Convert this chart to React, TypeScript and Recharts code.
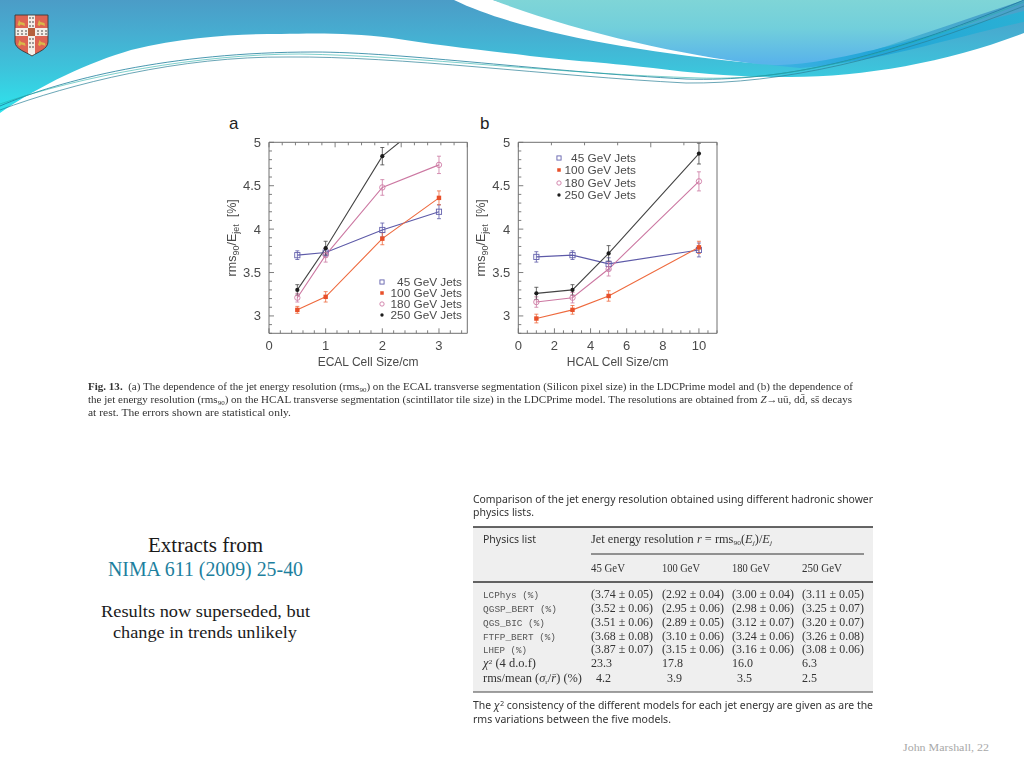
import React from 'react';
import { LineChart, Line, XAxis, YAxis, ErrorBar, Legend } from 'recharts';

// Panel a: ECAL cell size scan
const ecalSizes = [0.5, 1, 2, 3];
const ecal45 = [3.7, 3.73, 3.99, 4.2];
const ecal45Err = [0.05, 0.05, 0.08, 0.08];
const ecal100 = [3.07, 3.22, 3.89, 4.36];
const ecal100Err = [0.04, 0.06, 0.07, 0.08];
const ecal180 = [3.21, 3.7, 4.48, 4.74];
const ecal180Err = [0.05, 0.08, 0.09, 0.1];
const ecal250 = [3.3, 3.78, 4.84, 5.37];
const ecal250Err = [0.06, 0.08, 0.1, 0.1];

// Panel b: HCAL cell size scan
const hcalSizes = [1, 3, 5, 10];
const hcal45 = [3.68, 3.7, 3.6, 3.76];
const hcal45Err = [0.06, 0.05, 0.07, 0.08];
const hcal100 = [2.97, 3.07, 3.23, 3.79];
const hcal100Err = [0.05, 0.05, 0.06, 0.07];
const hcal180 = [3.16, 3.21, 3.54, 4.55];
const hcal180Err = [0.06, 0.06, 0.08, 0.11];
const hcal250 = [3.26, 3.3, 3.72, 4.87];
const hcal250Err = [0.07, 0.06, 0.09, 0.12];

const seriesNames = ['45 GeV Jets', '100 GeV Jets', '180 GeV Jets', '250 GeV Jets'];
const seriesColors = ['#5d5aa8', '#ee6a3e', '#cc78a2', '#444444'];
const markerColors = ['#6360ac', '#e8502a', '#cf7ba5', '#1c1c1c'];

const yTicks = [2.8, 2.9, 3, 3.1, 3.2, 3.3, 3.4, 3.5, 3.6, 3.7, 3.8, 3.9, 4, 4.1, 4.2, 4.3, 4.4, 4.5, 4.6, 4.7, 4.8, 4.9, 5];
const yMajor = [3, 3.5, 4, 4.5, 5];
const ecalTicks = [0, 0.2, 0.4, 0.6, 0.8, 1, 1.2, 1.4, 1.6, 1.8, 2, 2.2, 2.4, 2.6, 2.8, 3, 3.2, 3.4];
const ecalMajor = [0, 1, 2, 3];
const hcalTicks = [0, 0.5, 1, 1.5, 2, 2.5, 3, 3.5, 4, 4.5, 5, 5.5, 6, 6.5, 7, 7.5, 8, 8.5, 9, 9.5, 10, 10.5, 11];
const hcalMajor = [0, 2, 4, 6, 8, 10];

// Table below the plots
const tableEnergies = ['45 GeV', '100 GeV', '180 GeV', '250 GeV'];
const tableLists = ['LCPhys (%)', 'QGSP_BERT (%)', 'QGS_BIC (%)', 'FTFP_BERT (%)', 'LHEP (%)'];
const tableRows = [
  ['(3.74 ± 0.05)', '(2.92 ± 0.04)', '(3.00 ± 0.04)', '(3.11 ± 0.05)'],
  ['(3.52 ± 0.06)', '(2.95 ± 0.06)', '(2.98 ± 0.06)', '(3.25 ± 0.07)'],
  ['(3.51 ± 0.06)', '(2.89 ± 0.05)', '(3.12 ± 0.07)', '(3.20 ± 0.07)'],
  ['(3.68 ± 0.08)', '(3.10 ± 0.06)', '(3.24 ± 0.06)', '(3.26 ± 0.08)'],
  ['(3.87 ± 0.07)', '(3.15 ± 0.06)', '(3.16 ± 0.06)', '(3.08 ± 0.06)'],
];
const tableChi2 = ['23.3', '17.8', '16.0', '6.3'];
const tableRms = ['4.2', '3.9', '3.5', '2.5'];

const SANS = '"Liberation Sans", Arial, sans-serif';
const SERIF = '"Liberation Serif", serif';
const AXIS = '#707070';
const TEXT = '#4a4a4a';

const buildRows = (xs: number[], v: number[][], e: number[][]) =>
  xs.map((x, i) => ({
    x,
    v0: v[0][i], e0: e[0][i],
    v1: v[1][i], e1: e[1][i],
    v2: v[2][i], e2: e[2][i],
    v3: v[3][i], e3: e[3][i],
  }));

function Marker({ index, cx, cy, small }: { index: number; cx: number; cy: number; small?: boolean }) {
  const c = markerColors[index];
  const k = small ? 0.8 : 1;
  if (index === 0) return <rect x={cx - 2.6 * k} y={cy - 2.6 * k} width={5.2 * k} height={5.2 * k} fill="none" stroke={c} strokeWidth={0.9} />;
  if (index === 1) return <rect x={cx - 2.2 * k} y={cy - 2.2 * k} width={4.4 * k} height={4.4 * k} fill={c} />;
  if (index === 2) return <circle cx={cx} cy={cy} r={2.7 * k} fill="none" stroke={c} strokeWidth={0.9} />;
  return <circle cx={cx} cy={cy} r={2.1 * k} fill={c} />;
}

function Panel({ left, width, plotLeft, plotRight, xDomain, xTicks, xMajor, rows, xLabel, legendBox }: any) {
  const top = 130;
  const height = 245;
  const plotTop = 12.3;
  const bottomH = 41.7;

  const bottomTick = ({ x, y, payload }: any) => {
    const major = xMajor.includes(payload.value);
    return (
      <g>
        <line x1={x} x2={x} y1={y} y2={y - (major ? 5 : 3)} stroke={AXIS} strokeWidth={0.9} />
        {major && <text x={x} y={y + 17} textAnchor="middle" fontSize={13} fontFamily={SANS} fill={TEXT}>{payload.value}</text>}
      </g>
    );
  };
  const topTick = ({ x, y, payload }: any) => {
    const major = xMajor.includes(payload.value);
    return <line x1={x} x2={x} y1={y} y2={y + (major ? 5 : 3)} stroke={AXIS} strokeWidth={0.9} />;
  };
  const leftTick = ({ x, y, payload }: any) => {
    const major = yMajor.includes(payload.value);
    return (
      <g>
        <line x1={x} x2={x + (major ? 5 : 3)} y1={y} y2={y} stroke={AXIS} strokeWidth={0.9} />
        {major && <text x={x - 8} y={y + 4.5} textAnchor="end" fontSize={13} fontFamily={SANS} fill={TEXT}>{payload.value}</text>}
      </g>
    );
  };
  const rightTick = ({ x, y, payload }: any) => {
    const major = yMajor.includes(payload.value);
    return <line x1={x} x2={x - (major ? 5 : 3)} y1={y} y2={y} stroke={AXIS} strokeWidth={0.9} />;
  };

  const yLabel = (props: any) => {
    const vb = props.viewBox;
    const lx = vb.x + vb.width - 33;
    const ly = vb.y + vb.height / 2;
    return (
      <text transform={`rotate(-90 ${lx} ${ly})`} x={lx} y={ly} textAnchor="middle" fontSize={12.5} fontFamily={SANS} fill={TEXT}>
        rms<tspan fontSize={9} dy={3}>90</tspan><tspan dy={-3}>/E</tspan><tspan fontSize={9} dy={3}>jet</tspan><tspan dy={-3}>{'\u00a0\u00a0'}[%]</tspan>
      </text>
    );
  };

  const legendContent = ({ payload }: any) => (
    <div style={{ width: legendBox.width }}>
      {(payload || []).map((p: any, i: number) => (
        <div key={p.value} style={{ position: 'relative', height: legendBox.row, lineHeight: `${legendBox.row}px`, textAlign: 'right', fontFamily: SANS, fontSize: 11.8, color: TEXT, whiteSpace: 'nowrap' }}>
          <svg width={8} height={8} style={{ position: 'absolute', left: 0, top: legendBox.row / 2 - 4 }}>
            <Marker index={i} cx={4} cy={4} small />
          </svg>
          {p.value}
        </div>
      ))}
    </div>
  );

  return (
    <div style={{ position: 'absolute', left, top, width, height, filter: 'blur(0.35px)' }}>
      <LineChart
        width={width}
        height={height}
        data={rows}
        margin={{ top: plotTop - 1, right: left + width - plotRight - 1, left: 0, bottom: 0 }}
      >
        <XAxis
          dataKey="x"
          xAxisId="main"
          type="number"
          domain={xDomain}
          ticks={xTicks}
          interval={0}
          height={bottomH}
          tickSize={0}
          tickMargin={0}
          tick={bottomTick}
          stroke={AXIS}
          label={{ value: xLabel, position: 'insideBottom', offset: 9, fontSize: 12, fontFamily: SANS, fill: TEXT }}
        />
        <XAxis xAxisId="top" orientation="top" type="number" domain={xDomain} ticks={xTicks} interval={0} height={1} tickSize={0} tickMargin={0} tick={topTick} stroke={AXIS} />
        <YAxis
          yAxisId="main"
          type="number"
          domain={[2.8, 5]}
          allowDataOverflow
          ticks={yTicks}
          interval={0}
          width={plotLeft - left}
          tickSize={0}
          tickMargin={0}
          tick={leftTick}
          stroke={AXIS}
          label={yLabel}
        />
        <YAxis yAxisId="right" orientation="right" type="number" domain={[2.8, 5]} ticks={yTicks} interval={0} width={1} tickSize={0} tickMargin={0} tick={rightTick} stroke={AXIS} />
        <Legend
          layout="vertical"
          align="center"
          verticalAlign="middle"
          itemSorter={null}
          content={legendContent}
          wrapperStyle={{ left: legendBox.x - left, top: legendBox.y - top, width: legendBox.width }}
        />
        {seriesNames.map((name, i) => (
          <Line
            key={name}
            xAxisId="main"
            yAxisId="main"
            dataKey={`v${i}`}
            name={name}
            stroke={seriesColors[i]}
            strokeWidth={1.1}
            isAnimationActive={false}
            dot={(p: any) => <Marker key={`${name}-${p.index}`} index={i} cx={p.cx} cy={p.cy} />}
          >
            <ErrorBar dataKey={`e${i}`} direction="y" width={2} stroke={seriesColors[i]} strokeWidth={0.8} isAnimationActive={false} />
          </Line>
        ))}
      </LineChart>
    </div>
  );
}

function T({ x, y, w, size, font = SERIF, fill = '#333', weight, children }: any) {
  return (
    <text x={x} y={y} textLength={w} lengthAdjust="spacingAndGlyphs" fontSize={size} fontFamily={font} fill={fill} fontWeight={weight}>
      {children}
    </text>
  );
}

function Banner() {
  const spots = [[30, 18], [33, 18], [30, 22], [33, 22], [30, 26], [33, 26], [30, 39], [33, 39], [30, 43], [33, 43], [30, 47], [33, 47], [18, 31], [22, 31], [26, 31], [38, 31], [42, 31], [46, 31], [18, 34], [22, 34], [26, 34], [38, 34], [42, 34], [46, 34]];
  const lions = [[17.5, 20], [37.5, 20], [18, 40], [38, 40]];
  return (
    <svg width={1024} height={125} style={{ position: 'absolute', left: 0, top: 0 }}>
      <defs>
        <linearGradient id="blueBand" gradientUnits="userSpaceOnUse" x1={0} y1={0} x2={0} y2={115}>
          <stop offset="0" stopColor="#4b9cc7" />
          <stop offset="0.3" stopColor="#46aed1" />
          <stop offset="0.62" stopColor="#3cc5dc" />
          <stop offset="1" stopColor="#2de6ee" />
        </linearGradient>
        <linearGradient id="tealBand" gradientUnits="userSpaceOnUse" x1={0} y1={0} x2={0} y2={62}>
          <stop offset="0" stopColor="#7fd5d7" />
          <stop offset="0.45" stopColor="#72cfdb" />
          <stop offset="1" stopColor="#59b4ea" />
        </linearGradient>
        <linearGradient id="deepBand" gradientUnits="userSpaceOnUse" x1={770} y1={0} x2={1024} y2={0}>
          <stop offset="0" stopColor="#3fb2e4" />
          <stop offset="0.4" stopColor="#23a6d8" />
          <stop offset="1" stopColor="#2ab0d4" />
        </linearGradient>
        <clipPath id="shieldClip">
          <path d="M15,15 H48 V42 C48,49 38,52 32,56 C26,52 15,49 15,42 Z" />
        </clipPath>
      </defs>
      <path d="M0,0 H1024 V33 C950,62 860,78 784,77 C740,77 700,74 653,68 C600,62 560,60 523,55 C470,49 430,44 392,38 C350,33 320,33 281,34 C240,34 190,36 131,50 C90,62 40,85 0,113 Z" fill="url(#blueBand)" />
      <path d="M454,0 C520,32 640,52 752,63 L760,64 C680,55 590,30 493,0 Z" fill="#ffffff" />
      <path d="M493,0 C570,30 680,55 758,64 C800,68 830,65 860,55 C920,35 970,18 1024,0 Z" fill="url(#tealBand)" />
      <path d="M770,65 C830,66 900,42 1024,11 L1024,22 C950,38 880,62 800,68 Z" fill="url(#deepBand)" />
      <path d="M0,106 C60,80 170,52 314,52 C400,52 550,72 686,79 C780,82 880,60 1024,0" fill="none" stroke="#1c7d9c" strokeWidth={0.8} />
      <path d="M0,110 C70,84 180,56 288,57 C400,56 550,76 686,83 C780,84 890,60 1024,6" fill="none" stroke="#2a7f96" strokeWidth={0.7} />
      <path d="M0,104 C80,76 200,54 300,54 C420,56 560,74 700,78 C770,80 860,68 1024,2" fill="none" stroke="#27b0a8" strokeWidth={0.6} />
      <g style={{ filter: 'blur(0.4px)' }}>
        <g clipPath="url(#shieldClip)">
          <rect x={15} y={15} width={33} height={41} fill="#dd6453" />
          <rect x={28} y={15} width={7} height={41} fill="#f4efe8" />
          <rect x={15} y={28} width={33} height={8} fill="#f4efe8" />
          <rect x={28} y={28} width={7} height={8} fill="#b5603c" />
          {spots.map(([sx, sy], i) => (
            <rect key={i} x={sx - 0.7} y={sy - 0.9} width={1.4} height={1.8} fill="#6f6a66" />
          ))}
          {lions.map(([lx, ly], i) => (
            <path key={i} d={`M${lx},${ly + 5} L${lx + 1.5},${ly} L${lx + 3},${ly + 2} L${lx + 7},${ly + 3} L${lx + 7.5},${ly + 6} L${lx + 5},${ly + 5} L${lx + 3},${ly + 4.5} L${lx + 2},${ly + 6} Z`} fill="#d9b84a" />
          ))}
        </g>
        <path d="M15,15 H48 V42 C48,49 38,52 32,56 C26,52 15,49 15,42 Z" fill="none" stroke="#3a3a3a" strokeWidth={0.9} />
      </g>
    </svg>
  );
}

function Caption() {
  return (
    <svg width={1024} height={60} style={{ position: 'absolute', left: 0, top: 375, filter: 'blur(0.3px)' }}>
      <T x={88} y={15} w={765} size={11}>
        <tspan fontWeight="bold">Fig. 13.</tspan>{'\u00a0\u00a0'}(a) The dependence of the jet energy resolution (rms<tspan fontSize={7} dy={2}>90</tspan><tspan dy={-2}>) on the ECAL transverse segmentation (Silicon pixel size) in the LDCPrime model and (b) the dependence of</tspan>
      </T>
      <T x={88} y={28} w={764} size={11}>
        the jet energy resolution (rms<tspan fontSize={7} dy={2}>90</tspan><tspan dy={-2}>) on the HCAL transverse segmentation (scintillator tile size) in the LDCPrime model. The resolutions are obtained from </tspan><tspan fontStyle="italic">Z</tspan>{'→u\u016B, dd\u0304, ss\u0304 decays'}
      </T>
      <T x={88} y={41} w={203} size={11}>at rest. The errors shown are statistical only.</T>
    </svg>
  );
}

function JetTable() {
  const cols = [591, 662, 732, 802];
  const energyW = [34, 38, 38, 40];
  const rowY = [598, 612, 626, 640, 653];
  const listW = [56, 74, 62, 73, 44];
  const F = '"Noto Sans", sans-serif';
  return (
    <svg width={1024} height={300} viewBox="0 470 1024 300" style={{ position: 'absolute', left: 0, top: 470, filter: 'blur(0.3px)' }}>
      <T x={473} y={503} w={400} size={10} font={F}>Comparison of the jet energy resolution obtained using different hadronic shower</T>
      <T x={473} y={516} w={61} size={10} font={F}>physics lists.</T>
      <rect x={473} y={527} width={400} height={165} fill="#efefef" />
      <line x1={473} x2={873} y1={527} y2={527} stroke="#333" strokeWidth={1.4} />
      <line x1={591} x2={864} y1={554} y2={554} stroke="#333" strokeWidth={1} />
      <line x1={473} x2={873} y1={582} y2={582} stroke="#333" strokeWidth={1.4} />
      <line x1={473} x2={873} y1={692} y2={692} stroke="#444" strokeWidth={1} />
      <T x={483} y={543} w={53} size={10.5} font={F}>Physics list</T>
      <T x={591} y={543} w={181} size={11.5}>
        Jet energy resolution <tspan fontStyle="italic">r</tspan> = rms<tspan fontSize={7} dy={2}>90</tspan><tspan dy={-2}>(</tspan><tspan fontStyle="italic">E</tspan><tspan fontSize={7} dy={2} fontStyle="italic">j</tspan><tspan dy={-2}>)/</tspan><tspan fontStyle="italic">E</tspan><tspan fontSize={7} dy={2} fontStyle="italic">j</tspan>
      </T>
      {tableEnergies.map((e, i) => (
        <T key={e} x={cols[i]} y={572} w={energyW[i]} size={11.5}>{e}</T>
      ))}
      {tableLists.map((name, r) => (
        <T key={name} x={483} y={rowY[r]} w={listW[r]} size={9.5} font='"Liberation Mono", monospace' fill="#555">{name}</T>
      ))}
      {tableRows.map((row, r) =>
        row.map((val, c) => (
          <T key={`${r}-${c}`} x={cols[c]} y={rowY[r]} w={62} size={11.5}>{val}</T>
        )),
      )}
      <T x={483} y={667} w={53} size={11.5}>
        <tspan fontStyle="italic">χ</tspan><tspan fontSize={7} dy={-3}>2</tspan><tspan dy={3}> (4 d.o.f)</tspan>
      </T>
      <T x={483} y={682} w={99} size={11.5}>
        rms/mean (<tspan fontStyle="italic">σ</tspan><tspan fontSize={7} dy={2}>r</tspan><tspan dy={-2}>/</tspan><tspan fontStyle="italic">r̄</tspan>) (%)
      </T>
      {tableChi2.map((v, i) => (
        <T key={v} x={cols[i]} y={667} size={12}>{v}</T>
      ))}
      {tableRms.map((v, i) => (
        <T key={v} x={i === 3 ? cols[i] : cols[i] + 5} y={682} size={12}>{v}</T>
      ))}
      <T x={473} y={709} w={400} size={10} font={F}>
        The <tspan fontStyle="italic">χ</tspan><tspan fontSize={7} dy={-3}>2</tspan><tspan dy={3}> consistency of the different models for each jet energy are given as are the</tspan>
      </T>
      <T x={473} y={723} w={198} size={10} font={F}>rms variations between the five models.</T>
    </svg>
  );
}

export default function App() {
  const ecalRows = buildRows(ecalSizes, [ecal45, ecal100, ecal180, ecal250], [ecal45Err, ecal100Err, ecal180Err, ecal250Err]);
  const hcalRows = buildRows(hcalSizes, [hcal45, hcal100, hcal180, hcal250], [hcal45Err, hcal100Err, hcal180Err, hcal250Err]);

  return (
    <div style={{ position: 'absolute', left: 0, top: 0, width: 1024, height: 768, overflow: 'hidden', background: '#fff' }}>
      <Banner />
      <Panel
        left={215}
        width={260}
        plotLeft={269}
        plotRight={467.3}
        xDomain={[0, 3.5]}
        xTicks={ecalTicks}
        xMajor={ecalMajor}
        rows={ecalRows}
        xLabel="ECAL Cell Size/cm"
        legendBox={{ x: 378, y: 276.5, width: 84, row: 11 }}
      />
      <Panel
        left={465}
        width={260}
        plotLeft={518.3}
        plotRight={717}
        xDomain={[0, 11]}
        xTicks={hcalTicks}
        xMajor={hcalMajor}
        rows={hcalRows}
        xLabel="HCAL Cell Size/cm"
        legendBox={{ x: 555, y: 152, width: 81, row: 12.3 }}
      />
      <svg width={1024} height={768} style={{ position: 'absolute', left: 0, top: 0, pointerEvents: 'none' }}>
        <text x={229} y={129} fontSize={17} fontFamily={SANS} fill="#222">a</text>
        <text x={480} y={129} fontSize={17} fontFamily={SANS} fill="#222">b</text>
        <T x={148} y={552} w={115} size={20} fill="#1a1a1a">Extracts from</T>
        <T x={108} y={576} w={195} size={20} fill="#1d7f9e">NIMA 611 (2009) 25-40</T>
        <T x={101} y={617} w={209} size={16.5} fill="#1a1a1a">Results now superseded, but</T>
        <T x={113} y={638} w={184} size={16.5} fill="#1a1a1a">change in trends unlikely</T>
        <T x={903} y={751} w={86} size={11} fill="#a8a8a8">John Marshall, 22</T>
      </svg>
      <Caption />
      <JetTable />
    </div>
  );
}
